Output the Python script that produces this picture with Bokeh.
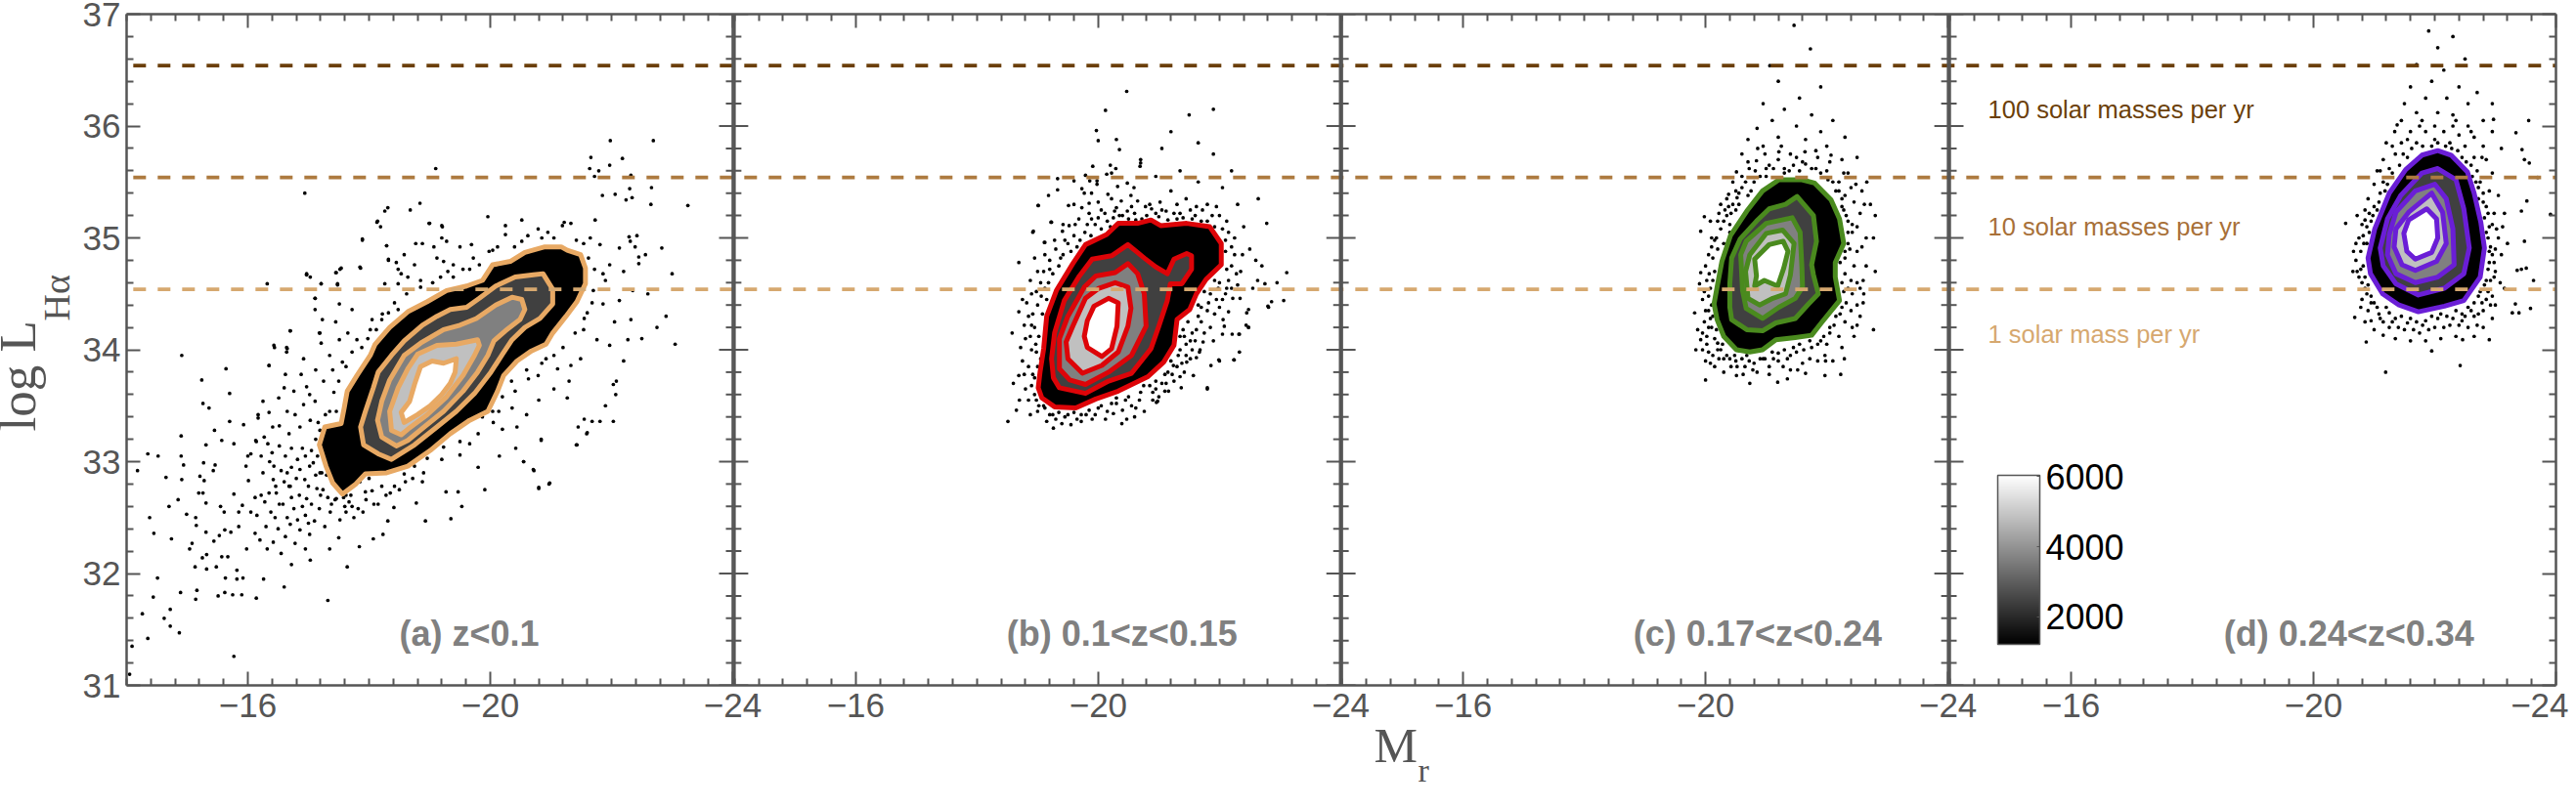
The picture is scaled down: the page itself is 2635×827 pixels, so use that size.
from bokeh.plotting import figure
from bokeh.models import Range1d, LinearAxis, FixedTicker, Label, Title, ColorBar, LinearColorMapper
from bokeh.palettes import gray
from bokeh.embed import file_html
from bokeh.resources import INLINE

PANEL_OFFSETS = [0.0, 10.03, 20.05, 30.08]
MR_MAJOR = [-16, -20, -24]
LOG_L_LABELS = [31, 32, 33, 34, 35, 36, 37]
CAPTIONS = ["(a) z<0.1", "(b) 0.1<z<0.15", "(c) 0.17<z<0.24", "(d) 0.24<z<0.34"]
RATE_LEVELS = [36.54, 35.54, 34.54]
RATE_TEXT = ["100 solar masses per yr", "10 solar masses per yr", "1 solar mass per yr"]
CBAR_TICKS = [2000, 4000, 6000]

A1 = [(-17.56,32.71),(-17.40,32.81),(-17.29,32.96),(-17.18,33.15),(-17.27,33.31),(-17.54,33.34),(-17.59,33.48),(-17.64,33.63),(-17.80,33.77),(-18.02,33.95),(-18.10,34.05),(-18.34,34.20),(-18.64,34.34),(-18.96,34.43),(-19.28,34.53),(-19.61,34.57),(-19.87,34.62),(-20.04,34.76),(-20.33,34.79),(-20.57,34.87),(-20.90,34.92),(-21.17,34.92),(-21.27,34.89),(-21.49,34.85),(-21.57,34.73),(-21.57,34.59),(-21.43,34.43),(-21.25,34.30),(-21.03,34.15),(-20.92,34.05),(-20.68,33.99),(-20.44,33.90),(-20.22,33.77),(-20.12,33.63),(-19.96,33.45),(-19.66,33.37),(-19.34,33.25),(-19.01,33.10),(-18.64,32.96),(-18.29,32.90),(-17.94,32.89),(-17.78,32.80)]
A2 = [(-18.37,33.02),(-18.15,33.07),(-17.91,33.15),(-17.86,33.31),(-17.94,33.45),(-18.07,33.66),(-18.15,33.80),(-18.37,33.95),(-18.58,34.08),(-18.88,34.22),(-19.12,34.30),(-19.34,34.36),(-19.61,34.38),(-19.82,34.46),(-20.09,34.57),(-20.41,34.65),(-20.71,34.67),(-20.87,34.68),(-21.03,34.54),(-21.03,34.41),(-20.82,34.28),(-20.57,34.20),(-20.36,34.09),(-20.20,33.96),(-20.01,33.80),(-19.74,33.61),(-19.44,33.45),(-19.12,33.31),(-18.75,33.15)]
A3 = [(-18.45,33.14),(-18.21,33.22),(-18.14,33.37),(-18.21,33.54),(-18.34,33.73),(-18.58,33.95),(-18.85,34.06),(-19.23,34.18),(-19.50,34.22),(-19.77,34.28),(-20.09,34.40),(-20.36,34.47),(-20.52,34.45),(-20.57,34.36),(-20.49,34.27),(-20.25,34.17),(-20.06,34.08),(-19.96,33.95),(-19.79,33.80),(-19.55,33.63),(-19.23,33.45),(-18.91,33.31),(-18.64,33.19)]
A4 = [(-18.53,33.24),(-18.37,33.28),(-18.34,33.45),(-18.48,33.66),(-18.64,33.83),(-18.80,33.96),(-19.12,34.04),(-19.44,34.05),(-19.79,34.09),(-19.82,34.04),(-19.74,33.95),(-19.55,33.77),(-19.28,33.58),(-18.96,33.42),(-18.64,33.29)]
A5 = [(-18.58,33.35),(-18.53,33.44),(-18.67,33.54),(-18.75,33.69),(-18.85,33.85),(-19.04,33.90),(-19.23,33.88),(-19.44,33.92),(-19.42,33.80),(-19.34,33.70),(-19.20,33.60),(-19.01,33.50),(-18.80,33.42)]

B1 = [(-19.01,33.66),(-19.07,33.57),(-19.28,33.49),(-19.63,33.48),(-19.96,33.56),(-20.33,33.63),(-20.82,33.76),(-21.08,33.89),(-21.25,34.04),(-21.30,34.27),(-21.51,34.36),(-21.62,34.50),(-21.78,34.63),(-22.03,34.76),(-22.03,34.95),(-21.84,35.10),(-21.46,35.13),(-21.03,35.11),(-20.87,35.16),(-20.65,35.13),(-20.33,35.13),(-20.14,35.03),(-19.79,34.94),(-19.58,34.77),(-19.31,34.53),(-19.15,34.30),(-19.10,34.01),(-19.04,33.80)]
B2 = [(-19.26,33.75),(-19.36,33.66),(-19.79,33.61),(-20.17,33.72),(-20.55,33.79),(-20.87,34.01),(-21.00,34.21),(-21.14,34.44),(-21.19,34.59),(-21.38,34.59),(-21.54,34.72),(-21.54,34.84),(-21.46,34.86),(-21.25,34.81),(-21.14,34.68),(-20.95,34.74),(-20.76,34.82),(-20.49,34.94),(-20.22,34.84),(-19.90,34.81),(-19.69,34.66),(-19.44,34.44),(-19.28,34.15),(-19.23,33.92)]
B3 = [(-19.36,33.83),(-19.53,33.73),(-19.79,33.69),(-20.17,33.80),(-20.55,33.95),(-20.79,34.21),(-20.76,34.50),(-20.65,34.68),(-20.49,34.77),(-20.28,34.69),(-19.96,34.66),(-19.77,34.56),(-19.50,34.30),(-19.36,34.10)]
B4 = [(-19.50,33.92),(-19.74,33.79),(-20.06,33.86),(-20.33,33.98),(-20.49,34.21),(-20.54,34.37),(-20.49,34.56),(-20.28,34.60),(-20.01,34.55),(-19.79,34.46),(-19.58,34.21),(-19.47,34.07)]
B5 = [(-19.77,34.12),(-19.82,34.02),(-20.06,33.94),(-20.22,34.01),(-20.31,34.21),(-20.33,34.42),(-20.17,34.46),(-19.93,34.39),(-19.82,34.26)]

C1 = [(-20.14,34.41),(-20.19,34.27),(-20.30,34.12),(-20.51,34.00),(-20.73,33.98),(-20.94,34.00),(-21.16,34.09),(-21.48,34.11),(-21.75,34.13),(-21.91,34.24),(-22.21,34.44),(-22.14,34.65),(-22.14,34.78),(-22.28,34.95),(-22.21,35.17),(-22.07,35.34),(-21.80,35.49),(-21.59,35.52),(-21.21,35.52),(-20.94,35.42),(-20.68,35.24),(-20.41,35.02),(-20.27,34.79),(-20.19,34.56)]
C2 = [(-20.40,34.38),(-20.43,34.27),(-20.68,34.18),(-20.94,34.17),(-21.16,34.24),(-21.48,34.28),(-21.70,34.41),(-21.86,34.50),(-21.78,34.67),(-21.75,34.76),(-21.83,34.97),(-21.78,35.20),(-21.51,35.37),(-21.32,35.30),(-21.05,35.26),(-20.84,35.15),(-20.57,34.99),(-20.43,34.82),(-20.40,34.59)]
C3 = [(-20.61,34.53),(-20.67,34.37),(-20.94,34.28),(-21.21,34.38),(-21.48,34.46),(-21.60,34.56),(-21.59,34.73),(-21.56,35.05),(-21.43,35.18),(-21.00,35.13),(-20.67,34.97),(-20.58,34.85)]
C4 = [(-20.70,34.46),(-20.89,34.40),(-21.11,34.46),(-21.32,34.50),(-21.40,34.67),(-21.46,34.95),(-21.27,35.07),(-21.00,35.04),(-20.73,34.85),(-20.66,34.70)]
C5 = [(-20.81,34.57),(-20.97,34.62),(-21.19,34.57),(-21.29,34.73),(-21.36,34.88),(-21.28,34.97),(-21.05,34.94),(-20.81,34.81),(-20.84,34.66)]

D1 = [(-20.90,34.82),(-20.94,34.68),(-21.14,34.50),(-21.41,34.40),(-21.73,34.34),(-22.16,34.39),(-22.48,34.44),(-22.75,34.65),(-22.82,34.91),(-22.76,35.14),(-22.65,35.40),(-22.54,35.59),(-22.27,35.74),(-22.05,35.78),(-21.79,35.74),(-21.52,35.61),(-21.25,35.40),(-21.01,35.08)]
D2 = [(-21.10,34.91),(-21.15,34.75),(-21.36,34.59),(-21.73,34.49),(-22.16,34.55),(-22.48,34.68),(-22.57,34.91),(-22.48,35.26),(-22.35,35.52),(-22.05,35.62),(-21.79,35.58),(-21.44,35.38),(-21.22,35.17)]
D3 = [(-21.22,34.85),(-21.36,34.68),(-21.68,34.60),(-22.05,34.65),(-22.32,34.76),(-22.30,35.08),(-22.19,35.35),(-22.00,35.48),(-21.68,35.42),(-21.36,35.23),(-21.25,35.03)]
D4 = [(-21.33,34.92),(-21.46,34.76),(-21.68,34.71),(-22.03,34.79),(-22.19,34.95),(-22.13,35.23),(-21.95,35.40),(-21.57,35.23),(-21.36,35.08)]
D5 = [(-21.49,35.04),(-21.54,34.88),(-21.68,34.81),(-21.95,34.87),(-22.05,35.00),(-22.03,35.17),(-21.87,35.26),(-21.57,35.16)]

DOTS_A = [(-14.05,31.10),(-14.09,31.35),(-14.35,31.42),(-14.26,31.64),(-14.62,31.60),(-14.72,31.68),(-14.72,31.53),(-14.87,31.47),(-14.44,31.79),(-14.89,31.83),(-15.14,31.77),(-15.16,31.85),(-14.51,31.96),(-15.51,31.80),(-15.62,31.83),(-15.75,31.81),(-15.90,31.81),(-16.14,31.78),(-15.77,31.26),(-17.32,31.76),(-16.60,31.88),(-16.26,31.95),(-15.63,31.96),(-15.82,31.95),(-15.92,31.96),(-15.82,32.03),(-17.64,32.06),(-17.03,32.12),(-17.84,32.24),(-18.07,32.31),(-18.23,32.35),(-18.31,32.47),(-18.93,32.47),(-19.35,32.49),(-19.53,32.60),(-18.78,32.63),(-18.41,32.59),(-19.27,32.73),(-19.47,32.73),(-19.91,32.75),(-20.80,32.76),(-20.97,32.80),(-20.72,32.92),(-20.55,33.00),(-21.42,33.15),(-21.59,33.25),(-20.84,33.19),(-22.03,33.36),(-21.81,33.36),(-21.68,33.36),(-21.55,33.38),(-21.45,33.31),
(-14.18,32.92),(-14.35,33.07),(-14.52,33.05),(-14.65,32.86),(-14.90,33.05),(-14.94,32.97),(-14.90,33.23),(-14.91,32.84),(-14.85,32.66),(-14.70,32.60),(-14.38,32.50),(-14.45,32.36),(-14.74,32.31),(-14.99,32.53),(-15.14,32.50),(-15.15,32.43),(-15.08,32.27),(-15.04,32.22),(-15.13,32.06),(-15.32,32.04),(-15.48,32.06),(-15.25,32.14),(-15.32,32.17),(-15.57,32.15),(-15.67,32.15),(-15.44,32.29),(-15.62,32.39),(-15.72,32.37),(-15.31,32.37),(-15.53,32.34),(-15.21,32.87),(-15.28,32.83),(-15.27,32.99),(-15.46,32.97),(-15.43,32.92),(-15.19,32.72),(-15.26,32.72),(-15.31,32.63),(-15.55,32.60),(-15.61,32.55),(-15.77,32.71),(-15.91,32.61),(-15.85,32.55),(-16.05,32.55),(-15.31,33.15),(-15.57,33.19),(-15.77,33.16),(-15.45,33.28),(-15.70,33.36),(-15.93,33.33),(-16.17,33.39),(-16.05,33.07),(-15.97,32.96),(-16.01,32.83),(-16.13,33.19),(-16.33,33.16),
(-16.2,32.30),(-16.3,32.42),(-16.42,32.28),(-16.5,32.40),(-16.55,32.18),(-16.62,32.33),(-16.7,32.44),(-16.78,32.27),(-16.86,32.39),(-16.95,32.52),(-17.02,32.35),(-17.1,32.47),(-17.18,32.58),(-17.27,32.42),(-17.36,32.55),(-17.44,32.66),(-17.52,32.48),(-17.6,32.60),(-17.7,32.70),(-17.82,32.58),(-17.95,32.66),(-18.05,32.74),(-18.15,32.62),(-16.15,32.52),(-16.28,32.64),(-16.38,32.55),(-16.47,32.72),(-16.58,32.62),(-16.68,32.78),(-16.76,32.58),(-16.85,32.70),(-16.94,32.84),(-17.05,32.62),(-17.14,32.76),(-17.22,32.90),(-17.32,32.68),(-17.42,32.82),(-17.02,32.96),(-16.82,33.02),(-16.62,33.05),(-16.42,32.84),(-16.25,32.90),(-16.12,32.68),(-17.62,32.70),(-17.05,33.10),(-16.9,33.12),(-16.72,33.12),(-16.52,33.14),(-16.36,33.0),(-17.3,33.0),(-17.12,33.2),
(-14.91,33.95),(-15.24,33.73),(-15.26,33.52),(-15.36,33.48),(-15.64,33.83),(-15.70,33.61),(-16.32,34.59),(-16.35,33.86),(-16.44,34.02),(-16.64,34.02),(-16.64,33.98),(-16.70,34.17),(-16.94,35.40),(-16.97,34.67),(-17.03,34.65),(-17.11,34.46),(-17.11,34.36),(-17.21,34.59),(-17.23,34.27),(-17.18,34.15),(-17.21,34.06),(-17.45,34.69),(-17.52,34.72),(-17.48,34.58),(-17.85,34.74),(-17.89,34.98),(-18.13,35.14),(-18.19,35.10),(-18.26,35.24),(-18.31,35.27),(-18.29,34.93),(-18.32,34.80),(-18.68,35.25),(-18.84,35.31),(-19.10,35.62),(-19.00,35.13),(-19.21,35.10),
(-21.43,33.15),(-20.98,32.81),(-20.80,32.77),(-20.71,32.93),(-20.55,33.00),(-20.84,33.20),(-21.60,33.26),(-22.08,33.72),(-22.07,33.60),(-22.27,34.09),(-22.32,34.27),(-22.35,34.53),(-22.13,34.91),(-21.73,35.16),(-21.22,35.14),(-20.52,35.16),(-20.25,35.11),(-19.96,35.19),(-18.99,35.13),(-19.20,35.11),(-17.89,34.99),(-18.29,34.93),(-18.14,35.15),
(-18.45,34.78),(-18.48,34.72),(-18.32,34.81),(-18.58,34.85),(-18.75,34.76),(-18.88,34.95),(-18.77,34.95),(-19.07,34.92),(-19.20,35.00),(-19.28,34.97),(-19.69,34.94),(-19.50,34.92),(-19.12,34.82),(-19.23,34.79),(-19.39,34.76),(-19.66,34.72),(-19.82,34.76),(-19.98,34.88),(-20.04,34.89),(-20.25,35.03),(-20.52,34.97),(-20.79,35.08),(-20.95,35.05),(-21.19,35.11),(-21.33,35.13),(-21.54,34.95),(-21.65,35.00),(-21.81,34.94),(-21.97,34.76),(-21.86,34.68),(-21.70,34.53),(-21.86,34.41),(-22.13,34.44),(-21.60,34.33),(-21.54,34.18),(-21.76,34.09),(-21.97,34.04),(-21.49,33.92),(-21.33,33.86),(-21.11,33.83),(-20.92,33.92),(-20.79,33.77),(-20.63,33.74),(-20.41,33.63),(-20.36,33.48),(-20.14,33.45),(-21.27,33.57),(-22.03,33.69),(-19.39,34.65),(-19.18,34.65),(-18.85,34.56),(-18.64,34.65),(-18.53,34.68),(-18.48,34.59),(-18.21,34.27),(-18.32,34.33),(-18.48,34.36),(-18.05,34.27),(-17.72,34.36),(-17.51,34.41),(-17.19,34.15),(-17.51,34.09),(-17.80,34.09),(-18.02,34.18),(-17.56,33.89),(-17.35,33.95),(-16.92,33.92),(-16.65,34.01),(-16.43,34.04),(-16.35,33.86),(-16.70,34.17),(-17.11,34.46),(-17.21,34.59),(-17.48,34.59),(-17.54,34.73),(-16.97,34.68),(-17.46,34.69),(-17.86,34.73),(-18.26,34.59),
(-16.17,33.42),(-16.35,33.44),(-16.25,33.54),(-16.51,33.57),(-16.60,33.66),(-16.76,33.63),(-16.97,33.67),(-17.11,33.54),(-17.35,33.45),(-17.46,33.45),(-16.65,33.45),(-16.92,33.51),(-17.03,33.37),(-17.19,33.28),(-16.86,33.31),(-16.41,33.31),(-16.27,33.22),(-16.14,33.18),(-16.00,33.05),(-16.22,33.05),(-16.43,32.96),(-16.65,32.90),(-16.86,32.93),(-17.08,32.99),(-17.19,32.90),(-16.70,32.78),(-16.97,32.67),(-17.24,32.75),(-16.22,32.70),(-16.46,32.78),(-17.46,32.67),(-17.67,32.64),(-17.94,32.73),(-18.21,32.78),(-18.42,32.78),(-18.58,32.89),(-18.75,32.96),(-18.96,33.03),(-19.23,33.13),(-19.50,33.06),(-19.66,33.16),(-19.87,33.40),(-20.20,33.29),(-20.44,33.31),(-20.04,33.45),
(-21.98,35.87),(-22.69,35.87),(-21.66,35.72),(-22.18,35.71),(-21.97,35.65),(-21.79,35.60),(-21.64,35.62),(-21.72,35.55),(-22.32,35.56),(-22.30,35.44),(-22.66,35.45),(-22.06,35.39),(-21.85,35.38),(-22.34,35.36),(-22.24,35.34),(-22.65,35.30),(-23.26,35.29),(-22.83,34.91),(-23.00,34.68),(-22.56,34.85),(-22.45,34.83),(-22.45,34.77),(-22.42,35.02),(-22.39,34.92),(-22.29,35.01),(-22.31,34.97),(-22.6,34.5),(-22.9,34.3),(-23.05,34.05),(-22.75,34.2),(-22.5,34.1),(-22.2,33.9),(-21.9,33.5),
(-17.35,33.1),(-17.45,32.95),(-17.55,32.82),(-17.65,32.92),(-17.72,32.78),(-17.85,32.82),(-18.0,32.85),(-17.38,33.25),(-17.16,33.35),(-17.28,33.42),(-17.42,33.62),(-17.5,33.72),(-17.62,33.85),(-17.72,33.98),(-17.88,34.02),(-17.98,34.1),(-18.12,34.18),(-18.22,34.32),(-18.42,34.42),(-18.62,34.5),(-18.85,34.62),(-19.05,34.6),(-19.3,34.7),(-19.55,34.72),(-19.72,34.82),(-20.12,34.92),(-20.4,34.92),(-20.62,35.02),(-20.85,35.0),(-21.05,35.0),(-21.42,34.98),(-21.62,34.82),(-21.72,34.72),(-21.68,34.42),(-21.55,34.28),(-21.4,34.15),(-21.2,34.02),(-21.05,33.95),(-20.85,33.88),(-20.6,33.82),(-20.35,33.72),(-20.2,33.58),(-20.05,33.35),(-19.8,33.25),(-19.5,33.18),(-19.2,33.02),(-18.9,32.9),(-18.6,32.82),(-18.35,32.72),(-17.75,32.5),(-17.5,32.32),(-17.35,32.22),(-16.95,32.22),(-16.72,32.08),(-16.32,32.22),(-16.12,32.36),(-15.98,32.22),(-15.85,32.42),(-16.68,33.25),(-16.52,33.32),(-16.78,33.42),(-17.02,33.6),(-17.25,33.72),(-17.4,33.82),(-17.12,33.82),(-16.88,33.78),(-16.62,33.78),(-17.65,34.15),(-17.45,34.25),(-21.9,34.62),(-22.05,34.25),(-22.2,34.7),(-21.3,33.72),(-21.05,33.65),(-20.8,33.55),(-20.6,33.42),(-20.42,33.12),(-20.15,33.05),(-19.8,32.95),
(-16.45,32.5),(-16.65,32.5),(-16.82,32.48),(-17.0,32.45),(-17.2,32.7),(-17.38,32.62),(-17.58,32.68),(-16.9,32.6),(-16.72,32.68),(-16.52,32.62),(-16.35,32.72),(-16.6,32.82),(-16.8,32.85),(-17.0,32.78),(-17.12,32.88),(-17.3,32.88),(-16.72,32.95),(-16.95,33.05),(-17.15,33.05),(-16.55,32.92),(-16.4,33.08),(-17.62,32.55),(-17.72,32.6),(-17.9,32.55),(-18.08,32.62),(-18.28,32.7),(-18.5,32.75),(-18.72,32.85),(-18.88,32.82)]

DOTS_B = [(-23.11,34.69),(-22.95,34.60),(-22.86,34.43),(-23.06,34.44),(-22.81,34.38),(-22.75,34.59),(-22.63,34.62),(-22.48,34.36),(-22.45,34.33),(-22.44,34.22),(-22.48,34.20),(-22.33,34.14),(-22.21,34.14),(-22.33,33.98),(-22.24,33.91),(-22.00,33.90),(-21.86,33.86),(-21.80,33.65),(-21.57,33.77),(-21.37,33.66),(-21.10,33.63),(-21.16,33.63),(-21.00,33.58),(-20.96,33.53),(-22.06,34.27),(-22.08,34.21),(-22.15,34.34),(-22.22,34.46),(-22.34,34.46),(-22.05,34.14),(-21.90,34.08),(-21.73,34.07),(-21.67,33.98),(-21.62,33.93),(-21.46,33.89),(-21.24,33.86),(-21.35,33.76),
(-18.51,33.36),(-19.26,33.30),(-18.65,33.46),(-18.69,33.77),(-18.58,34.15),(-18.69,34.34),(-18.69,34.78),(-18.93,35.06),(-19.01,35.29),(-19.12,34.96),(-19.23,35.14),(-20.47,33.38),(-20.39,33.34),(-20.76,33.45),(-20.98,33.54),(-21.80,33.66),(-22.24,33.91),(-21.99,33.91),(-22.48,34.20),(-22.80,34.39),(-22.70,34.75),(-22.78,35.13),(-22.64,35.35),(-22.32,34.14),
(-20.47,36.31),(-20.12,36.14),(-19.97,35.96),(-20.00,35.87),(-20.30,35.88),(-20.35,35.79),(-20.70,35.70),(-20.70,35.67),(-20.69,35.64),(-19.91,35.64),(-20.20,35.65),(-20.29,35.62),(-20.14,35.57),(-20.22,35.58),(-19.79,35.56),(-19.33,35.53),(-19.60,35.51),(-19.86,35.51),(-19.98,35.51),(-19.98,35.48),(-19.33,35.43),(-19.18,35.38),(-19.73,35.44),(-19.77,35.40),(-19.89,35.40),(-19.01,35.29),(-19.22,35.14),(-18.92,35.05),(-19.11,34.96),(-20.48,35.49),(-20.32,35.46),(-20.59,35.45),(-20.16,35.39),(-20.22,35.35),(-20.00,35.32),(-19.85,35.31),(-19.73,35.27),(-19.60,35.30),(-19.51,35.29),(-20.38,35.33),(-20.54,35.38),(-20.65,35.33),(-20.48,35.24),(-20.27,35.24),(-20.11,35.22),(-19.89,35.17),(-19.68,35.17),(-19.52,35.11),(-19.41,35.06),
(-21.5,36.1),(-21.9,36.15),(-21.2,35.95),(-21.65,35.85),(-21.05,35.8),(-21.9,35.75),(-22.2,35.6),(-21.35,35.6),(-20.95,35.55),(-21.65,35.5),(-22.05,35.45),(-21.2,35.42),(-21.45,35.35),(-21.8,35.3),(-22.3,35.3),(-20.85,35.3),(-21.05,35.25),(-21.25,35.22),(-21.6,35.2),(-22.0,35.2),(-22.4,35.1),(-22.15,35.05),(-22.5,34.9),(-22.25,34.85),(-22.6,34.8),(-22.35,34.7),(-22.15,34.62),(-22.55,34.55),(-22.1,34.5),(-21.95,34.45),(-21.8,34.35),(-22.0,34.38),(-21.7,34.25),(-21.55,34.15),(-21.85,34.2),(-21.45,34.05),(-21.6,34.08),(-21.35,34.0),(-21.15,33.8),(-21.25,33.72),(-21.05,33.7),(-20.85,33.68),(-20.7,33.62),(-20.55,33.5),(-20.3,33.52),(-20.15,33.45),(-20.0,33.48),(-19.8,33.42),(-19.65,33.38),(-19.45,33.4),(-19.2,33.42),(-19.0,33.45),(-18.85,33.55),(-18.8,33.65),(-18.95,33.75),(-18.75,33.9),(-18.9,34.0),(-18.8,34.1),(-18.95,34.2),(-18.85,34.3),(-19.0,34.4),(-18.9,34.5),(-19.05,34.6),(-19.1,34.7),(-19.2,34.8),(-19.3,34.9),(-19.45,34.98),(-19.6,35.02),(-19.78,35.05),(-19.95,35.12),(-20.15,35.15),(-20.4,35.2),(-20.6,35.22),(-20.8,35.2),(-21.0,35.19),(-21.3,35.17),(-21.55,35.17),(-21.8,35.15),(-22.1,34.98),(-22.2,34.75),(-22.0,34.6),(-21.85,34.5),(-21.7,34.38),(-19.0,33.85),(-18.95,33.6),(-19.1,33.5),(-19.3,33.38),(-19.55,33.33),(-19.9,33.38),(-20.25,33.43),(-20.6,33.4),(-20.9,33.62),(-21.3,33.85),(-21.45,33.95),(-21.55,34.0),(-18.7,33.55),(-18.6,33.7),(-18.75,34.45),
(-19.05,33.92),(-19.02,34.12),(-19.08,34.32),(-19.15,34.45),(-19.18,34.6),(-19.25,34.68),(-19.35,34.75),(-19.42,34.85),(-19.55,34.88),(-19.7,34.98),(-19.88,35.02),(-20.05,35.08),(-20.25,35.18),(-20.5,35.17),(-20.72,35.17),(-20.95,35.22),(-21.15,35.16),(-21.4,35.18),(-21.7,35.15),(-21.92,35.1),(-22.1,34.88),(-22.12,34.72),(-21.92,34.62),(-21.75,34.52),(-21.65,34.4),(-21.48,34.25),(-21.4,34.18),(-21.35,34.12),(-21.32,33.95),(-21.2,33.9),(-21.1,33.78),(-20.95,33.72),(-20.75,33.68),(-20.5,33.58),(-20.3,33.57),(-20.05,33.5),(-19.85,33.46),(-19.6,33.44),(-19.35,33.44),(-19.12,33.48),(-18.98,33.55),(-18.9,33.68),(-18.85,33.85),(-18.88,34.12),(-18.92,34.32),(-18.98,34.52),(-19.0,34.7),(-19.12,34.85),(-19.28,34.98),(-19.42,35.12),(-19.62,35.12),(-19.85,35.22),(-20.05,35.25),(-20.3,35.27),(-20.55,35.28),(-20.78,35.28),(-21.02,35.32),(-21.3,35.3),(-21.52,35.25),(-21.72,35.25),(-21.95,35.28),(-22.12,35.15),(-22.25,35.0),(-22.38,34.85),(-22.3,34.58),(-22.2,34.55),(-22.05,34.45),(-21.92,34.32),(-21.75,34.15),(-21.62,34.18),(-21.68,34.0),(-21.52,33.92),(-21.42,33.8),(-21.22,33.78),(-20.9,33.55),(-20.62,33.48),(-20.4,33.46),(-20.12,33.38),(-19.72,33.36),(-19.4,33.34),(-19.15,33.36),(-18.88,33.42),(-18.78,33.78),(-18.72,34.02),(-18.78,34.22),(-18.82,34.42),(-18.88,34.62),(-18.95,34.82),
(-18.98,33.98),(-18.97,34.05),(-18.9,34.22),(-19.06,34.48),(-19.12,34.55),(-19.2,34.72),(-19.38,34.82),(-19.5,34.95),(-19.65,34.92),(-19.82,35.12),(-20.0,35.18),(-20.2,35.1),(-20.35,35.2),(-20.62,35.16),(-20.88,35.26),(-21.12,35.24),(-21.35,35.22),(-21.62,35.28),(-21.88,35.2),(-22.05,35.08),(-22.2,34.92),(-22.28,34.68),(-22.12,34.55),(-21.98,34.55),(-21.82,34.42),(-21.65,34.3),(-21.52,34.08),(-21.42,34.12),(-21.38,33.88),(-21.12,33.7),(-20.95,33.65),(-20.68,33.55),(-20.45,33.55),(-20.22,33.52),(-19.95,33.42),(-19.72,33.42),(-19.5,33.42),(-19.25,33.42),(-19.02,33.5),(-18.92,33.78)]

DOTS_C = [(-20.00,33.73),(-20.73,33.70),(-21.19,33.71),(-21.35,33.74),(-22.23,33.78),(-21.65,33.79),(-20.51,33.77),(-21.97,33.77),(-19.84,34.00),(-19.92,34.09),(-19.82,34.33),(-19.87,34.18),(-19.90,34.59),(-19.92,34.69),(-19.92,35.06),(-19.98,35.19),(-20.08,35.15),(-20.25,35.30),(-20.38,35.39),(-20.51,35.59),(-20.84,35.69),(-20.86,35.80),(-21.21,35.77),(-21.64,35.77),(-22.07,35.74),(-22.50,35.72),(-22.66,35.50),(-22.80,35.20),(-22.77,35.00),(-22.80,34.70),(-22.61,34.50),(-22.77,34.18),(-22.45,34.12),(-22.29,33.92),(-21.97,33.95),
(-21.46,36.90),(-21.73,36.69),(-21.06,36.54),(-21.2,36.4),(-21.9,36.35),(-21.55,36.25),(-20.95,36.2),(-21.3,36.15),(-21.75,36.1),(-21.1,36.05),(-22.1,36.05),(-20.85,35.98),(-21.5,36.0),(-21.9,35.95),(-22.3,35.9),(-20.7,35.88),(-21.2,35.9),(-21.65,35.88),(-20.95,35.82),(-22.0,35.82),(-20.6,35.75),(-21.4,35.75),(-21.85,35.72),(-22.25,35.7),(-20.7,35.68),(-21.05,35.65),(-21.3,35.62),(-21.55,35.6),(-21.75,35.62),(-22.0,35.6),(-22.35,35.58),(-22.2,35.5),(-20.45,35.5),(-20.6,35.55),(-20.8,35.5),(-20.35,35.35),(-20.55,35.4),(-20.7,35.38),(-20.2,35.15),(-20.35,35.2),(-20.5,35.25),(-20.1,35.0),(-20.25,35.08),(-20.4,35.12),(-20.05,34.85),(-20.2,34.9),(-20.3,34.95),(-20.0,34.75),(-20.15,34.7),(-19.95,34.45),(-20.08,34.55),(-20.0,34.35),(-20.05,34.2),(-19.95,34.0),(-20.15,34.1),(-20.0,33.9),(-20.2,34.0),(-20.15,33.85),(-20.35,33.95),(-20.3,33.8),(-20.5,33.9),(-20.65,33.85),(-20.85,33.8),(-20.95,33.92),(-21.05,33.78),(-21.2,33.9),(-21.4,33.82),(-21.3,34.0),(-21.5,33.98),(-21.6,33.88),(-21.75,34.02),(-21.85,33.9),(-22.0,34.05),(-22.1,33.9),(-22.2,34.12),(-22.05,34.2),(-22.3,34.25),(-22.55,34.3),(-22.4,34.35),(-22.25,34.38),(-22.6,34.42),(-22.35,34.55),(-22.5,34.6),(-22.3,34.68),(-22.65,34.75),(-22.3,34.82),(-22.5,34.88),(-22.35,34.95),(-22.65,35.0),(-22.42,35.05),(-22.35,35.15),(-22.55,35.22),(-22.72,35.3),(-22.45,35.32),(-22.3,35.38),(-22.4,35.45),(-22.58,35.42),(-20.25,34.0),(-20.4,33.92),(-20.6,33.92),(-20.8,33.88),(-21.1,33.98),(-21.35,33.92),(-21.55,34.05),(-21.9,34.08),(-22.15,34.3),(-22.4,34.62),(-22.25,35.28),(-22.2,35.42),(-21.3,35.58),(-21.0,35.55),(-20.75,35.42),(-20.55,35.3),(-20.4,35.05),(-20.25,34.75),(-20.1,34.4),(-20.18,34.18),
(-20.08,34.28),(-20.05,34.48),(-20.12,34.62),(-20.12,34.82),(-20.18,35.0),(-20.3,35.15),(-20.45,35.3),(-20.6,35.45),(-20.82,35.6),(-21.0,35.62),(-21.2,35.7),(-21.45,35.65),(-21.65,35.66),(-21.9,35.58),(-22.1,35.5),(-22.25,35.35),(-22.32,35.2),(-22.42,35.12),(-22.38,34.9),(-22.22,34.78),(-22.25,34.6),(-22.32,34.42),(-22.12,34.22),(-21.95,34.12),(-21.72,34.08),(-21.45,34.02),(-21.2,33.97),(-20.98,33.92),(-20.72,33.9),(-20.48,33.95),(-20.28,34.05),(-20.02,34.12),(-20.05,33.98),(-20.22,33.92),(-20.42,33.85),(-20.62,33.78),(-20.78,33.82),(-21.05,33.85),(-21.28,33.85),(-21.52,33.82),(-21.72,33.92),(-21.98,33.9),(-22.25,34.02),(-22.42,34.2),(-22.5,34.4),(-22.55,34.55),(-22.45,34.75),(-22.58,34.92),(-22.5,35.1),(-22.62,35.3),(-22.48,35.48),(-22.28,35.58),(-22.05,35.68),(-21.82,35.78),(-21.5,35.72),(-21.25,35.82),(-20.98,35.75),(-20.72,35.62),(-20.5,35.42),(-20.32,35.25),(-20.15,34.98),(-20.02,34.62),(-19.98,34.25),(-20.12,33.95),
(-20.1,34.2),(-20.02,34.05),(-20.12,34.3),(-20.06,34.68),(-20.1,34.92),(-20.22,35.22),(-20.38,35.28),(-20.52,35.36),(-20.66,35.5),(-20.9,35.55),(-21.12,35.62),(-21.38,35.6),(-21.6,35.68),(-21.82,35.62),(-22.02,35.52),(-22.15,35.42),(-22.28,35.25),(-22.35,35.05),(-22.3,34.88),(-22.28,34.52),(-22.22,34.32),(-22.05,34.15),(-21.85,34.05),(-21.62,34.0),(-21.4,33.95),(-21.12,33.92),(-20.9,33.92),(-20.68,33.95),(-20.52,33.85),(-20.3,33.92),(-20.2,34.06),(-20.08,33.88),(-19.95,34.15),(-19.98,34.52),(-20.05,34.35),(-20.42,35.22),(-22.18,34.42),(-22.42,34.5),(-22.5,34.22),(-22.6,34.62)]

DOTS_D = [(-21.19,33.80),(-22.42,33.86),(-21.95,33.99),(-20.87,34.07),(-22.90,34.09),(-22.46,34.09),(-20.68,34.29),(-20.53,35.13),(-20.66,34.88),(-23.70,35.54),(-23.63,34.62),(-23.58,34.37),(-23.51,34.73),(-23.43,34.72),(-23.36,34.71),(-23.39,34.33),(-23.28,34.33),(-23.33,34.41),(-23.91,35.21),(-23.52,35.33),(-23.43,35.24),(-23.48,34.97),(-23.56,35.67),(-23.48,35.70),(-23.44,35.79),(-23.34,35.94),(-23.55,36.05),(-22.97,36.06),(-22.35,36.05),(-21.79,36.05),(-21.38,36.01),(-21.34,35.95),
(-21.9,36.85),(-22.3,36.8),(-22.05,36.7),(-22.5,36.6),(-21.7,36.55),(-22.15,36.5),(-21.95,36.4),(-22.4,36.35),(-21.6,36.35),(-22.7,36.3),(-21.85,36.25),(-22.2,36.25),(-21.5,36.2),(-22.55,36.2),(-22.95,36.2),(-21.7,36.12),(-22.05,36.12),(-22.3,36.1),(-21.45,36.05),(-22.8,36.05),(-22.55,36.0),(-22.95,35.95),(-21.6,35.95),(-21.85,35.95),(-22.15,35.95),(-22.4,35.92),(-22.65,35.9),(-21.2,35.85),(-21.45,35.85),(-21.7,35.85),(-22.0,35.88),(-22.25,35.85),(-22.5,35.82),(-22.8,35.82),(-23.1,35.8),(-21.15,35.7),(-21.35,35.75),(-22.65,35.72),(-22.85,35.7),(-21.05,35.6),(-21.25,35.62),(-22.7,35.6),(-22.95,35.58),(-21.0,35.48),(-21.15,35.5),(-22.75,35.5),(-20.9,35.35),(-21.1,35.4),(-22.8,35.4),(-23.05,35.38),(-20.85,35.25),(-21.0,35.28),(-22.85,35.28),(-23.15,35.22),(-20.8,35.12),(-20.95,35.15),(-22.95,35.12),(-22.85,35.05),(-23.05,35.0),(-23.2,34.95),(-20.75,35.0),(-20.88,34.95),(-22.92,34.92),(-23.1,34.85),(-20.7,34.8),(-20.82,34.75),(-22.9,34.78),(-23.0,34.7),(-20.75,34.65),(-20.85,34.55),(-22.85,34.62),(-23.08,34.6),(-20.8,34.45),(-20.95,34.48),(-22.75,34.52),(-22.95,34.48),(-20.9,34.35),(-21.05,34.38),(-22.65,34.42),(-22.8,34.35),(-20.85,34.25),(-21.1,34.28),(-21.25,34.33),(-21.45,34.3),(-21.7,34.25),(-21.95,34.3),(-22.2,34.3),(-22.45,34.32),(-22.65,34.3),(-22.95,34.28),(-21.0,34.18),(-21.25,34.2),(-21.5,34.18),(-21.75,34.15),(-22.0,34.2),(-22.25,34.22),(-22.55,34.2),(-22.8,34.2),(-21.35,34.1),(-21.6,34.08),(-21.85,34.08),(-22.1,34.1),(-22.35,34.12),(-22.65,34.12),(-21.15,34.13),(-20.95,34.26),(-20.72,34.7),(-20.7,34.95),(-23.0,34.4),(-23.15,34.55),
(-20.82,35.02),(-20.78,34.88),(-20.85,34.65),(-20.9,34.58),(-21.0,34.42),(-21.2,34.38),(-21.35,34.28),(-21.6,34.28),(-21.85,34.26),(-22.1,34.32),(-22.35,34.35),(-22.55,34.38),(-22.72,34.48),(-22.82,34.58),(-22.88,34.72),(-22.95,34.85),(-22.88,35.0),(-22.98,35.22),(-22.82,35.18),(-22.72,35.35),(-22.68,35.5),(-22.6,35.65),(-22.45,35.72),(-22.28,35.8),(-22.05,35.85),(-21.8,35.82),(-21.55,35.72),(-21.42,35.65),(-21.22,35.48),(-21.08,35.32),(-20.98,35.2),(-20.92,35.05),(-20.72,35.2),(-20.65,34.7),(-20.78,34.38),(-21.4,34.2),(-21.65,34.18),(-21.9,34.18),(-22.15,34.2),(-22.4,34.22),(-22.7,34.22),(-22.85,34.45),(-22.98,34.65),(-23.0,34.9),(-23.12,35.1),(-22.9,35.42),(-22.78,35.72),(-22.6,35.95),(-22.3,36.0),(-22.0,36.0),(-21.75,36.0),(-21.55,35.88),(-21.3,35.82),(-21.1,35.6),
(-20.88,35.1),(-20.83,34.95),(-20.78,34.72),(-20.88,34.5),(-21.08,34.32),(-21.3,34.25),(-21.55,34.24),(-21.8,34.22),(-22.05,34.28),(-22.3,34.28),(-22.5,34.3),(-22.6,34.35),(-22.78,34.42),(-22.88,34.52),(-22.92,34.62),(-22.98,34.78),(-22.9,34.88),(-23.02,35.08),(-22.9,35.1),(-22.88,35.22),(-22.8,35.32),(-22.72,35.45),(-22.62,35.55),(-22.52,35.68),(-22.38,35.78),(-22.18,35.82),(-21.95,35.82),(-21.62,35.8),(-21.48,35.75),(-21.3,35.58),(-21.18,35.42),(-21.05,35.25),(-20.92,35.22),(-20.85,35.16),(-20.8,34.6),(-20.95,34.42),(-21.15,34.25),(-22.45,34.26),(-22.72,34.32),(-22.92,34.4)]

PANEL_POLYS = [[A1, A2, A3, A4, A5], [B1, B2, B3, B4, B5], [C1, C2, C3, C4, C5], [D1, D2, D3, D4, D5]]
PANEL_DOTS = [DOTS_A, DOTS_B, DOTS_C, DOTS_D]
LEVEL_FILL = ["#000000", "#404040", "#808080", "#c0c0c0", "#ffffff"]
EDGE = ["#e8a964", "#dd0408", "#4a8a1e", "#6a1ed6"]
RATE_LINE = ["#6b3f0a", "#ad7a3f", "#d6a86f"]
RATE_TEXT_COLOR = ["#6b3f0a", "#a87038", "#d6a86f"]
AXIS = "#555555"
SANS = "Liberation Sans"
SERIF = "Liberation Serif"


def u(off, mr):
    return off + (-14 - mr)


p = figure(width=2627, height=819, output_backend="svg", toolbar_location=None,
           x_range=Range1d(0, 40.08), y_range=Range1d(31, 37), x_axis_type=None, y_axis_type=None,
           min_border_left=129, min_border_right=13, min_border_top=14, min_border_bottom=118,
           background_fill_color="white", outline_line_color=None)
p.grid.visible = False

major_x = [round(u(o, m), 3) for o in PANEL_OFFSETS for m in MR_MAJOR]
minor_x = [round(o + k * 0.4, 3) for o in PANEL_OFFSETS for k in range(0, 26) if k % 10 != 5]
labels_x = {t: "\u2212" + str(m)[1:] for t, m in zip(major_x, MR_MAJOR * 4)}
minor_y = [31 + k * 0.2 for k in range(31) if k % 5]


def style(ax, show):
    ax.axis_line_color = AXIS
    ax.axis_line_width = 2.5
    ax.major_tick_line_color = AXIS
    ax.minor_tick_line_color = AXIS
    ax.major_tick_line_width = 2
    ax.minor_tick_line_width = 2
    ax.major_tick_in = 14
    ax.major_tick_out = 0
    ax.minor_tick_in = 7
    ax.minor_tick_out = 0
    ax.major_label_text_font = SANS
    ax.major_label_text_color = AXIS
    ax.major_label_text_font_size = "35px" if show else "10px"


for place in ("below", "above"):
    ax = LinearAxis(ticker=FixedTicker(ticks=major_x, minor_ticks=minor_x))
    style(ax, place == "below")
    ax.major_label_overrides = labels_x if place == "below" else {t: "" for t in major_x}
    ax.major_label_standoff = 8 if place == "below" else 0
    p.add_layout(ax, place)
for place in ("left", "right"):
    ax = LinearAxis(ticker=FixedTicker(ticks=LOG_L_LABELS, minor_ticks=minor_y))
    style(ax, place == "left")
    if place == "right":
        ax.major_label_overrides = {t: "" for t in LOG_L_LABELS}
    ax.major_label_standoff = 6 if place == "left" else 0
    p.add_layout(ax, place)

# axis titles: stacked side panels, so that the subscripts sit beside their letters
p.add_layout(Title(text="H\u03b1", text_font=SERIF, text_font_size="38px", text_font_style="normal",
                   text_color=AXIS, align="left", offset=373, standoff=5), "left")
p.add_layout(Title(text="log L", text_font=SERIF, text_font_size="53px", text_font_style="normal",
                   text_color=AXIS, align="left", offset=260, standoff=-28), "left")
p.add_layout(Title(text="M", text_font=SERIF, text_font_size="50px", text_font_style="normal",
                   text_color=AXIS, align="left", offset=1276, standoff=-8), "below")
p.add_layout(Title(text="r", text_font=SERIF, text_font_size="34px", text_font_style="normal",
                   text_color=AXIS, align="left", offset=1321, standoff=-38), "below")

# fields and their contours
for off, polys, dots, edge in zip(PANEL_OFFSETS, PANEL_POLYS, PANEL_DOTS, EDGE):
    p.scatter([u(off, d[0]) for d in dots], [d[1] for d in dots], size=3.7, color="black", line_width=0)
    for poly, fill in zip(polys, LEVEL_FILL):
        p.patch([u(off, v[0]) for v in poly], [v[1] for v in poly], fill_color=fill,
                line_color=edge, line_width=5, line_join="round")

# rate lines
for lev, col in zip(RATE_LEVELS, RATE_LINE):
    p.line([0.11, 40.08], [lev, lev], line_color=col, line_width=3.6, line_dash="13 12")

# inner panel dividers with their ticks
TICK_MAJOR = 14 / 62
TICK_MINOR = 7 / 62
for off in PANEL_OFFSETS[1:]:
    for edge_u, sign in ((off - 0.03, -1), (off + 0.0, 1)):
        p.segment([edge_u], [31], [edge_u], [37], line_color=AXIS, line_width=2.5)
        p.segment([edge_u] * len(LOG_L_LABELS), LOG_L_LABELS,
                  [edge_u + sign * TICK_MAJOR] * len(LOG_L_LABELS), LOG_L_LABELS,
                  line_color=AXIS, line_width=2)
        p.segment([edge_u] * len(minor_y), minor_y,
                  [edge_u + sign * TICK_MINOR] * len(minor_y), minor_y,
                  line_color=AXIS, line_width=2)

# captions
for off, cap in zip([4.5, 14.52, 24.86, 34.6], CAPTIONS):
    p.add_layout(Label(x=off, y=31.46, text=cap, text_font=SANS, text_font_style="bold",
                       text_font_size="36px", text_color="#808080", text_align="left",
                       text_baseline="alphabetic"))
for txt, col, lev in zip(RATE_TEXT, RATE_TEXT_COLOR, [36.15, 35.10, 34.14]):
    p.add_layout(Label(x=30.71, y=lev, text=txt, text_font=SANS, text_font_size="25.5px",
                       text_color=col, text_align="left", text_baseline="middle"))

# colour bar
mapper = LinearColorMapper(palette=gray(256), low=1220, high=6030)
bar = ColorBar(color_mapper=mapper, ticker=FixedTicker(ticks=CBAR_TICKS), location=(1914, 42),
               width=43, height=173, padding=0, bar_line_color=AXIS, bar_line_width=1.5,
               major_tick_line_color=AXIS, major_tick_in=3, major_tick_out=0,
               minor_tick_line_color=None, label_standoff=6, background_fill_color=None,
               major_label_text_font=SANS, major_label_text_font_size="36px",
               major_label_text_color="black")
p.add_layout(bar)

open("out.html", "w").write(file_html(p, INLINE))
